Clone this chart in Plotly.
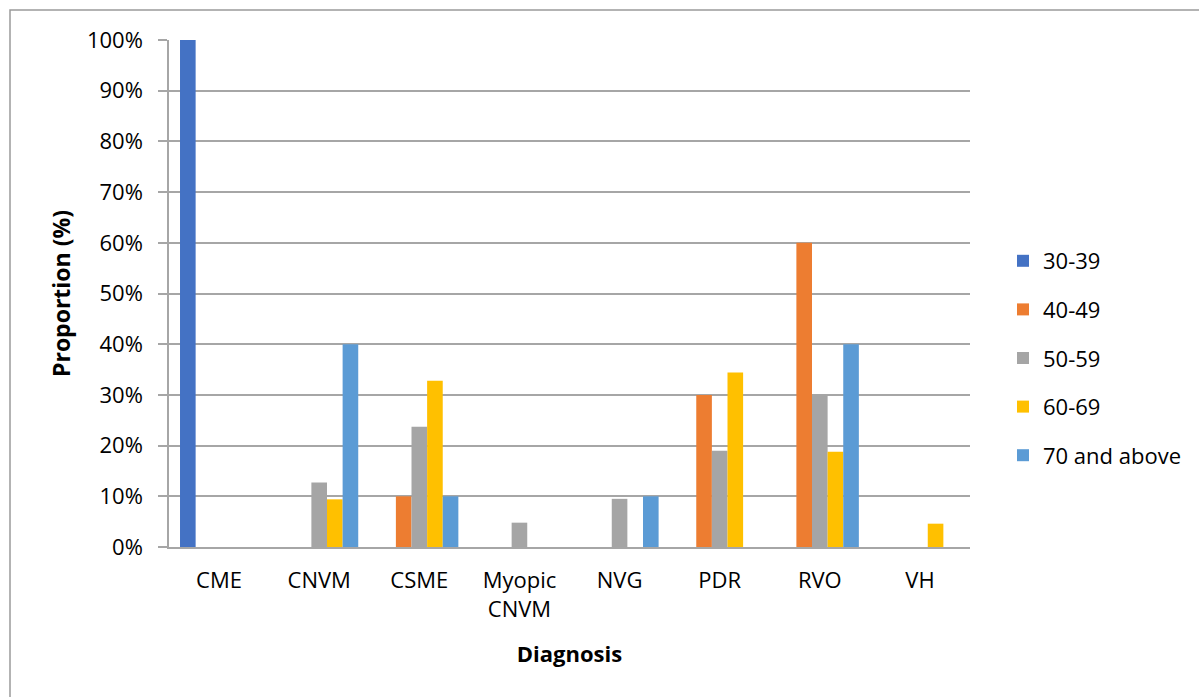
import plotly.graph_objects as go

categories = ["CME", "CNVM", "CSME", "Myopic<br>CNVM", "NVG", "PDR", "RVO", "VH"]
series_names = ["30-39", "40-49", "50-59", "60-69", "70 and above"]
v_30_39 = [100, 0, 0, 0, 0, 0, 0, 0]
v_40_49 = [0, 0, 10, 0, 0, 30, 60, 0]
v_50_59 = [0, 12.7, 23.7, 4.8, 9.5, 19.0, 30, 0]
v_60_69 = [0, 9.4, 32.8, 0, 0, 34.4, 18.8, 4.6]
v_70_up = [0, 40, 10, 0, 10, 0, 40, 0]
colors = ["#4472C4", "#ED7D31", "#A5A5A5", "#FFC000", "#5B9BD5"]
tick_vals = [0, 10, 20, 30, 40, 50, 60, 70, 80, 90, 100]
tick_text = [f"{v}%" for v in tick_vals]

FONT = "Open Sans"

fig = go.Figure()
for i, (name, vals) in enumerate(zip(series_names, [v_30_39, v_40_49, v_50_59, v_60_69, v_70_up])):
    fig.add_trace(go.Bar(x=categories, y=vals, name=name, marker_color=colors[i],
                         marker_line_width=0, legendgroup=f"g{i}"))

L, R, T, B = 169, 229, 40, 150
W, H = 1199, 697
pw = W - L - R
ph = H - T - B

def px_x(p):
    return (p - L) / pw

def px_y(p):
    return (H - B - p) / ph

fig.update_layout(
    width=W, height=H,
    margin=dict(l=L, r=R, t=T, b=B),
    paper_bgcolor="white", plot_bgcolor="white",
    barmode="group", bargap=0.22, bargroupgap=0,
    font=dict(family=FONT, size=22, color="#000000"),
    legend=dict(x=px_x(1003), y=px_y(240), xanchor="left", yanchor="top",
                traceorder="grouped", tracegroupgap=17,
                font=dict(family=FONT, size=22, color="#000000")),
    xaxis=dict(showgrid=False, showline=True, linecolor="#a6a6a6", linewidth=1.5,
               ticks="", tickfont=dict(family=FONT, size=22), ticklabelstandoff=13,
               title=dict(text="<b>Diagnosis</b>", font=dict(family=FONT, size=22), standoff=25)),
    yaxis=dict(range=[0, 100], tickvals=tick_vals, ticktext=tick_text,
               showgrid=True, gridcolor="#a6a6a6", gridwidth=1.5,
               showline=True, linecolor="#a6a6a6", linewidth=1.5,
               ticks="outside", ticklen=9, tickcolor="#a6a6a6", tickwidth=1.5,
               ticklabelstandoff=11,
               tickfont=dict(family=FONT, size=22), zeroline=False,
               title=dict(text="<b>Proportion (%)</b>", font=dict(family=FONT, size=23), standoff=10)),
    shapes=[dict(type="rect", xref="paper", yref="paper",
                 x0=px_x(10), x1=px_x(1215), y0=px_y(715), y1=px_y(10),
                 line=dict(color="#9a9a9a", width=1.5), fillcolor="rgba(0,0,0,0)", layer="below")],
)

fig.write_html("out.html", config={"displayModeBar": False},
               post_script="document.body.style.margin='0';document.body.style.overflow='hidden';")
